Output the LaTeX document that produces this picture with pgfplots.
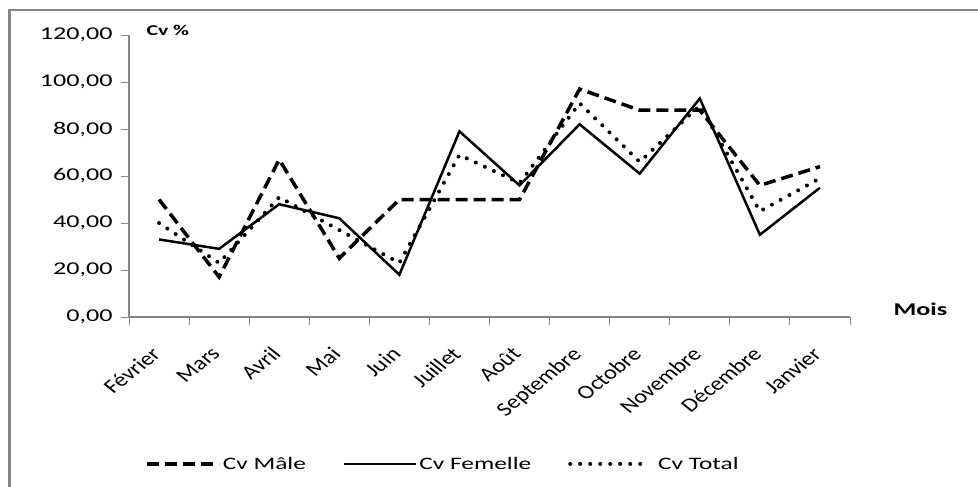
\documentclass[border=0pt]{standalone}
\usepackage{fontspec}
\setmainfont[FakeStretch=1.45]{Carlito}
\newfontfamily\plainfont{Carlito}
\usepackage{pgfplots}
\pgfplotsset{compat=1.18}
\definecolor{axgray}{RGB}{134,134,134}
\begin{document}
\begin{tikzpicture}
\path[use as bounding box] (0,0) rectangle (978bp,-487bp);
\draw[axgray, line width=3bp] (9.5bp,-9bp) -- (9.5bp,-487bp);
\draw[axgray, line width=2bp] (8bp,-10bp) -- (978bp,-10bp);
\begin{axis}[
  at={(129bp,-317bp)}, anchor=south west,
  scale only axis, width=721bp, height=282bp,
  xmin=0, xmax=12, ymin=0, ymax=120,
  axis lines*=left,
  axis line style={axgray, line width=1.2bp},
  tick align=outside, major tick length=8bp,
  tick style={axgray, line width=1bp},
  xtick={0,1,...,12},
  x tick label as interval,
  xticklabels={Février,Mars,Avril,Mai,Juin,Juillet,Août,Septembre,Octobre,Novembre,Décembre,Janvier},
  xticklabel style={font=\plainfont\fontsize{19.5bp}{19.5bp}\selectfont, anchor=north east, xshift=-9bp, yshift=-16bp, xscale=1.25, rotate=45},
  ytick={0,20,...,120},
  yticklabels={{0,00},{20,00},{40,00},{60,00},{80,00},{100,00},{120,00}},
  yticklabel style={font=\fontsize{18bp}{18bp}\selectfont, xshift=-5bp},
  legend style={at={(0.4355,-0.521)}, anchor=center, draw=none, fill=none,
    legend columns=3, font=\fontsize{17.5bp}{20bp}\selectfont,
    /tikz/every even column/.append style={column sep=35bp}},
  legend image code/.code={\draw[#1] (0bp,0bp) -- (72bp,0bp);},
  clip=false,
]
\addplot[black, line width=3.5bp, dash pattern=on 12bp off 6bp] coordinates {
(0.5,50) (1.5,17) (2.5,67) (3.5,25) (4.5,50) (5.5,50) (6.5,50) (7.5,97) (8.5,88) (9.5,88) (10.5,56) (11.5,64)};
\addlegendentry{Cv Mâle}
\addplot[black, line width=2.5bp] coordinates {
(0.5,33) (1.5,29) (2.5,48) (3.5,42) (4.5,18) (5.5,79) (6.5,56) (7.5,82) (8.5,61) (9.5,93) (10.5,35) (11.5,55)};
\addlegendentry{Cv Femelle}
\addplot[black, line width=4bp, line cap=round, dash pattern=on 0bp off 10bp] coordinates {
(0.5,40) (1.5,23) (2.5,51) (3.5,37) (4.5,23) (5.5,69) (6.5,57) (7.5,91) (8.5,66) (9.5,90) (10.5,45) (11.5,59)};
\addlegendentry{\hspace{12bp}Cv Total}
\end{axis}
\node[anchor=west, font=\bfseries\fontsize{15bp}{15bp}\selectfont] at (143bp,-30bp) {Cv \%};
\node[anchor=west, font=\bfseries\fontsize{18bp}{18bp}\selectfont] at (890bp,-309bp) {Mois};
\end{tikzpicture}
\end{document}
